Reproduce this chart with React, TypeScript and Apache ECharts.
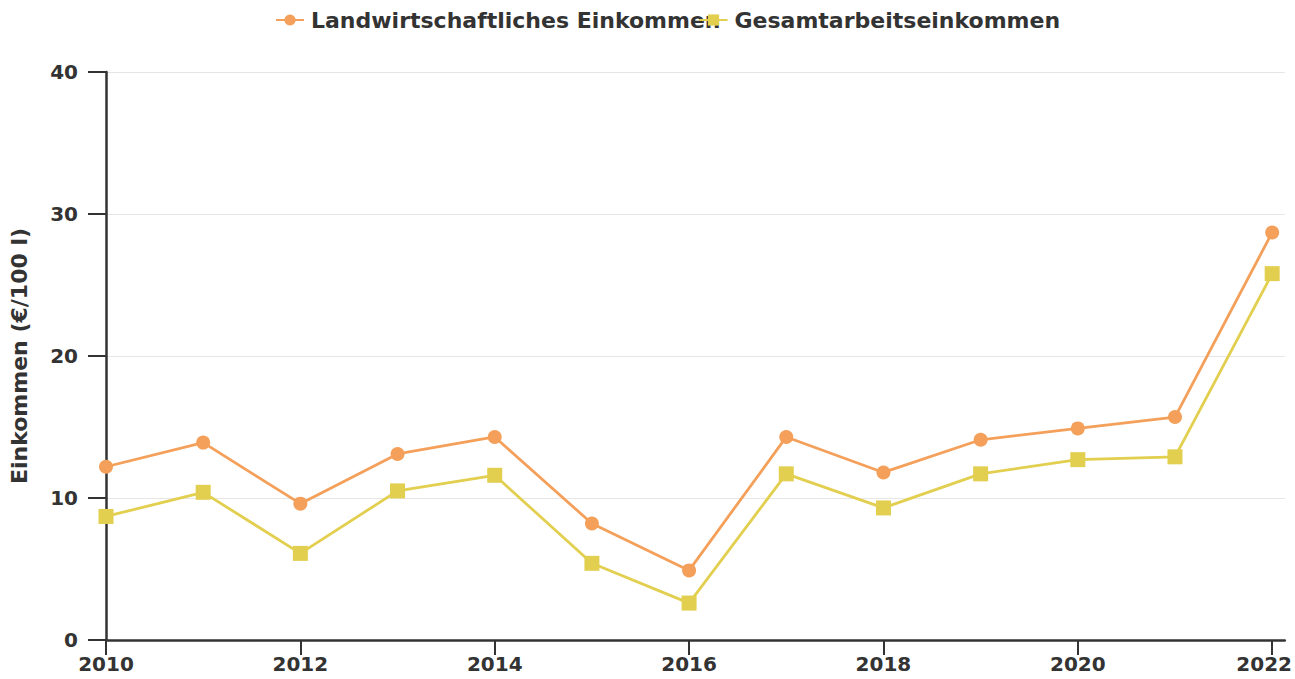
import React, { useEffect, useRef } from "react";
import * as echarts from "echarts";

const years = [2010, 2011, 2012, 2013, 2014, 2015, 2016, 2017, 2018, 2019, 2020, 2021, 2022];
const landwirtschaftlich = [12.2, 13.9, 9.6, 13.1, 14.3, 8.2, 4.9, 14.3, 11.8, 14.1, 14.9, 15.7, 28.7];
const gesamtarbeit = [8.7, 10.4, 6.1, 10.5, 11.6, 5.4, 2.6, 11.7, 9.3, 11.7, 12.7, 12.9, 25.8];
const xTickLabels = [2010, 2012, 2014, 2016, 2018, 2020, 2022];
const seriesNames = ["Landwirtschaftliches Einkommen", "Gesamtarbeitseinkommen"];

const FONT = "DejaVu Sans";

export default function App() {
  const ref = useRef<HTMLDivElement>(null);
  useEffect(() => {
    if (!ref.current) return;
    const chart = echarts.init(ref.current, undefined, { renderer: "svg" });
    chart.setOption({
      animation: false,
      backgroundColor: "#ffffff",
      legend: {
        top: 4,
        left: 270,
        itemWidth: 28,
        itemHeight: 14,
        itemGap: -22,
        textStyle: { fontFamily: FONT, fontWeight: "bold", fontSize: 22, color: "#333333", padding: [0, 0, 0, 2] },
        data: seriesNames,
      },
      grid: { left: 105, right: 10, top: 72, bottom: 39, containLabel: false },
      xAxis: {
        type: "value",
        min: 2010,
        max: 2022.13,
        axisLine: { show: true, lineStyle: { color: "#333333", width: 2.5 } },
        axisTick: { show: true, length: 15, customValues: xTickLabels, lineStyle: { color: "#333333", width: 2 } },
        axisLabel: {
          customValues: xTickLabels,
          fontFamily: FONT,
          fontWeight: "bold",
          fontSize: 20,
          color: "#333333",
          margin: 14,
          formatter: (v: number) => (v === 2022 ? "{r|" + v + "}" : String(v)),
          rich: {
            r: { fontFamily: FONT, fontWeight: "bold", fontSize: 20, color: "#333333", padding: [0, 16, 0, 0] },
          },
        },
        splitLine: { show: false },
      },
      yAxis: {
        type: "value",
        min: 0,
        max: 40,
        interval: 10,
        name: "Einkommen (€/100 l)",
        nameLocation: "middle",
        nameGap: 76,
        nameTextStyle: { fontFamily: FONT, fontWeight: "bold", fontSize: 22, color: "#333333" },
        axisLine: { show: true, lineStyle: { color: "#333333", width: 2.5 } },
        axisTick: { show: true, length: 18, lineStyle: { color: "#333333", width: 2 } },
        axisLabel: { fontFamily: FONT, fontWeight: "bold", fontSize: 20, color: "#333333", margin: 28 },
        splitLine: { show: true, lineStyle: { color: "#e6e6e6", width: 1 } },
      },
      series: [
        {
          name: seriesNames[0],
          type: "line",
          data: years.map((y, i) => [y, landwirtschaftlich[i]]),
          symbol: "circle",
          symbolSize: 14,
          itemStyle: { color: "#F4A05A" },
          lineStyle: { color: "#F4A05A", width: 2.8 },
        },
        {
          name: seriesNames[1],
          type: "line",
          data: years.map((y, i) => [y, gesamtarbeit[i]]),
          symbol: "rect",
          symbolSize: 15,
          itemStyle: { color: "#E2CF4F" },
          lineStyle: { color: "#E2CF4F", width: 2.8 },
        },
      ],
    });
    return () => chart.dispose();
  }, []);
  return (
    <div
      ref={ref}
      style={{ position: "fixed", left: 0, top: 0, width: 1295, height: 679 }}
    />
  );
}
